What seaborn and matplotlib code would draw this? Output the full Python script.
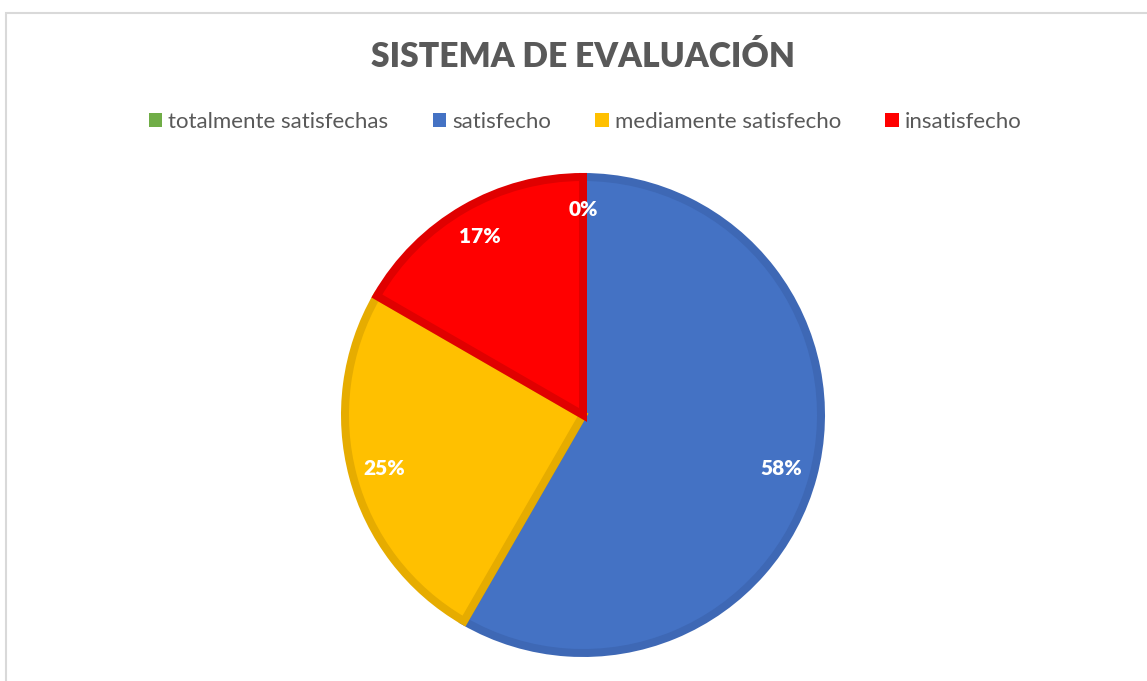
import matplotlib
matplotlib.use("Agg")
import matplotlib.pyplot as plt
import matplotlib.patches as mpatches
import seaborn as sns

# Data
categories = ["totalmente satisfechas", "satisfecho", "mediamente satisfecho", "insatisfecho"]
counts = [0, 7, 3, 2]
pct_labels = ["0%", "58%", "25%", "17%"]

face_colors = ["#70AD47", "#4472C4", "#FFC000", "#FF0000"]
edge_colors = ["#5E9A3A", "#3E68B5", "#E6AC00", "#E00000"]

sns.set_theme(style="white")
plt.rcParams["font.family"] = ["Lato", "DejaVu Sans"]

W, H = 1147, 681
fig = plt.figure(figsize=(W / 100, H / 100), dpi=100)

# light gray chart border (only left and top edges fall inside the picture)
border = mpatches.Rectangle((6 / W, -0.2), 1.2, 1.2 - 13 / H, transform=fig.transFigure,
                            fill=False, edgecolor="#D9D9D9", linewidth=1.5)
fig.patches.append(border)

# pie axes: center (583, 415), radius 242 px
R = 242
cx, cy = 583, 415
ax = fig.add_axes([(cx - R) / W, (H - cy - R) / H, 2 * R / W, 2 * R / H])

edge_px = 8
lw_pt = edge_px * 72 / 100
r_inner = (R - edge_px / 2) / R

wedges, texts = ax.pie(counts, colors=face_colors, startangle=90, counterclock=False,
                       radius=r_inner, labels=pct_labels, labeldistance=0.85 / r_inner,
                       wedgeprops=dict(linewidth=lw_pt, joinstyle="miter"),
                       textprops=dict(color="white", fontsize=15, fontweight="heavy"))
for w, ec in zip(wedges, edge_colors):
    w.set_edgecolor(ec)
for t in texts:
    t.set_ha("center")
    t.set_va("center")
ax.set_xlim(-1, 1)
ax.set_ylim(-1, 1)
ax.set_aspect("equal")
ax.axis("off")

fig.text(cx / W, 1 - 57 / H, "SISTEMA DE EVALUACIÓN", ha="center", va="center",
         fontsize=24.2, fontweight="heavy", color="#595959")

handles = [mpatches.Patch(facecolor=c, edgecolor="none") for c in face_colors]
fig.legend(handles, categories, loc="center", bbox_to_anchor=(585 / W, 1 - 122 / H),
           ncol=4, frameon=False, fontsize=16, labelcolor="#595959",
           handlelength=0.6, handleheight=0.6, handletextpad=0.27, columnspacing=2.0)

fig.savefig("out.png", dpi=100)
